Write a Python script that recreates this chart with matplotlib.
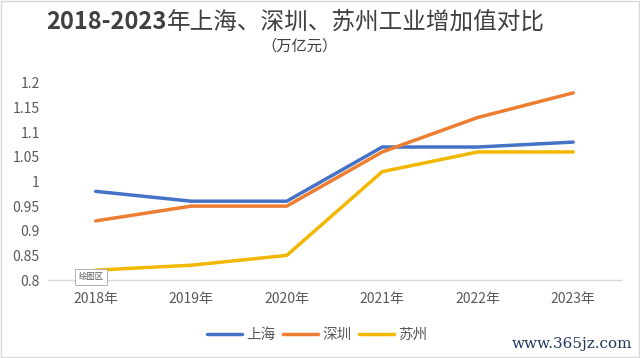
import matplotlib.pyplot as plt

plt.rcParams['font.family'] = ['Noto Sans CJK SC', 'DejaVu Sans']

years = ['2018年', '2019年', '2020年', '2021年', '2022年', '2023年']
shanghai = [0.98, 0.96, 0.96, 1.07, 1.07, 1.08]
shenzhen = [0.92, 0.95, 0.95, 1.06, 1.13, 1.18]
suzhou = [0.82, 0.83, 0.85, 1.02, 1.06, 1.06]
yticks = [0.8, 0.85, 0.9, 0.95, 1, 1.05, 1.1, 1.15, 1.2]
ytick_labels = ['0.8', '0.85', '0.9', '0.95', '1', '1.05', '1.1', '1.15', '1.2']

fig = plt.figure(figsize=(6.4, 3.58), dpi=100)
ax = fig.add_axes([48 / 640, 1 - 280 / 358, (621 - 48) / 640, (280 - 83) / 358])

x = range(len(years))
ax.plot(x, shanghai, color='#4472C4', lw=2.5, label='上海', solid_capstyle='round')
ax.plot(x, shenzhen, color='#ED7D31', lw=2.5, label='深圳', solid_capstyle='round')
ax.plot(x, suzhou, color='#F2B800', lw=2.5, label='苏州', solid_capstyle='round')

ax.set_xlim(-0.5, len(years) - 0.5)
ax.set_ylim(0.8, 1.2)
ax.set_xticks(list(x))
ax.set_xticklabels(years, fontsize=10, color='#595959')
ax.set_yticks(yticks)
ax.set_yticklabels(ytick_labels, fontsize=10, color='#595959')
ax.tick_params(length=0, pad=9)
ax.tick_params(axis='y', pad=6)
for s in ['top', 'right', 'left']:
    ax.spines[s].set_visible(False)
ax.spines['bottom'].set_color('#D9D9D9')
ax.spines['bottom'].set_linewidth(1)
for l in ax.lines:
    l.set_clip_on(False)

# 标题
fig.text(167 / 640, 1 - 22 / 358, '2018-2023', ha='right', va='center',
         fontsize=17, fontweight='bold', color='#404040')
fig.text(167 / 640, 1 - 22 / 358, '年上海、深圳、苏州工业增加值对比', ha='left', va='center',
         fontsize=17, color='#404040')
fig.text(300 / 640, 1 - 46 / 358, '（万亿元）', ha='center', va='center',
         fontsize=11, color='#404040')

# 绘图区 提示框
fig.text(91 / 640, 1 - 277 / 358, '绘图区', ha='center', va='center', fontsize=6,
         color='#595959',
         bbox=dict(boxstyle='square,pad=0.4', fc='white', ec='#A6A6A6', lw=0.6))

ax.legend(loc='center', bbox_to_anchor=(317 / 640, 1 - 335 / 358),
          bbox_transform=fig.transFigure, ncol=3, frameon=False, fontsize=10.5,
          handlelength=2.4, columnspacing=0.5, handletextpad=0.3,
          labelcolor='#595959')

fig.text(632 / 640, 1 - 344 / 358, 'www.365jz.com', ha='right', va='center',
         fontsize=11, color='#1F3864', family='DejaVu Serif')

# 外框
fig.patches.append(plt.Rectangle((0.002, 0.002), 0.996, 0.996, transform=fig.transFigure,
                                 fill=False, ec='#D9D9D9', lw=1))

fig.savefig('out.png', dpi=100)
